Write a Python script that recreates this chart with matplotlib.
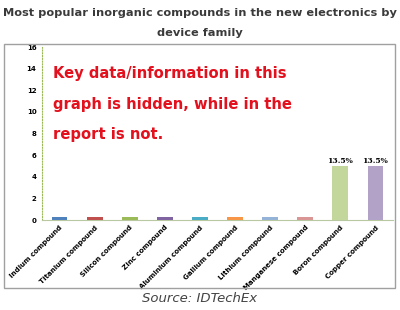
import matplotlib
matplotlib.use("Agg")
import matplotlib.pyplot as plt
from matplotlib.patches import Rectangle

# Chart data
compounds = ["Indium compound", "Titanium compound", "Silicon compound", "Zinc compound",
             "Aluminium compound", "Gallium compound", "Lithium compound",
             "Manganese compound", "Boron compound", "Copper compound"]
values = [0.3, 0.3, 0.3, 0.3, 0.3, 0.3, 0.3, 0.3, 5.0, 5.0]
bar_labels = ["", "", "", "", "", "", "", "", "13.5%", "13.5%"]
colors = ["#4f81bd", "#c0504d", "#9bbb59", "#8064a2", "#4bacc6",
          "#f79646", "#95b3d7", "#d99694", "#c3d69b", "#b3a2c7"]
y_ticks = [0, 2, 4, 6, 8, 10, 12, 14, 16]

fig = plt.figure(figsize=(4, 3.1), dpi=100)

# outer frame of the chart
fig.patches.append(Rectangle((4 / 400, 1 - 288 / 310), 391 / 400, 244 / 310,
                             transform=fig.transFigure, fill=False,
                             edgecolor="#a0a0a0", linewidth=1.0))

ax = fig.add_axes([0.105, 0.29, 0.8775, 0.558])
x = range(len(compounds))
bars = ax.bar(x, values, width=0.45, color=colors, zorder=3)
for rect, lab in zip(bars, bar_labels):
    if lab:
        ax.text(rect.get_x() + rect.get_width() / 2, rect.get_height() + 0.1, lab,
                ha="center", va="bottom", fontsize=5.5, fontweight="bold",
                family="DejaVu Serif")

ax.set_xlim(-0.5, len(compounds) - 0.5)
ax.set_ylim(0, 16)
ax.set_yticks(y_ticks)
ax.set_yticklabels([str(t) for t in y_ticks], fontsize=5, fontweight="bold")
ax.set_xticks(list(x))
ax.set_xticklabels(compounds, rotation=45, ha="right", rotation_mode="anchor",
                   fontsize=5, fontweight="bold")
ax.tick_params(axis="both", length=0, pad=4)
ax.tick_params(axis="x", pad=3)

for s in ["top", "right"]:
    ax.spines[s].set_visible(False)
ax.spines["left"].set_color("#9bbb59")
ax.spines["left"].set_linestyle((0, (1, 1.5)))
ax.spines["left"].set_linewidth(0.8)
ax.spines["bottom"].set_color("#b8c8a0")
ax.spines["bottom"].set_linewidth(0.8)

# overlay notice
ax.text(0.03, 0.89, "Key data/information in this\ngraph is hidden, while in the\nreport is not.",
        transform=ax.transAxes, ha="left", va="top", color="#e3101e",
        fontsize=10.6, fontweight="bold", linespacing=2.3)

fig.text(0.5, 0.975, "Most popular inorganic compounds in the new electronics by\ndevice family",
         ha="center", va="top", fontsize=8.2, fontweight="bold", color="#3a3a3a",
         linespacing=2.3)
fig.text(0.5, 0.038, "Source: IDTechEx", ha="center", va="center",
         fontsize=9.5, style="italic", color="#444444")

plt.savefig("out.png", dpi=100)
